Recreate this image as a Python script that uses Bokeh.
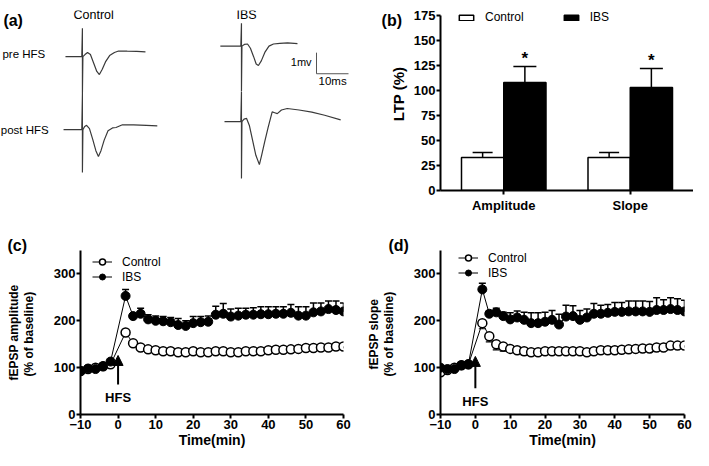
import math
from bokeh.plotting import figure
from bokeh.models import (Range1d, FactorRange, Whisker, TeeHead, NormalHead, Arrow, Label, Title,
                          Legend, LegendItem, ColumnDataSource, SingleIntervalTicker)
from bokeh.transform import dodge
from bokeh.layouts import row, column
from bokeh.embed import file_html
from bokeh.resources import INLINE
from bokeh.core.properties import value

FONT = "Liberation Sans"

# ---------------- panel (a): example fEPSP traces (ms from stimulus, mV from baseline)
ctrl_pre_t = [-5.3, -0.2, 0.0, 0.0, 0.15, 0.8, 1.6, 2.5, 3.5, 4.5, 5.3, 6.2, 7.2, 8.5, 10.0, 11.3, 14.0, 17.0, 19.7]
ctrl_pre_v = [0.0, 0.0, 1.35, -1.77, 0.0, 0.1, 0.2, 0.1, -0.3, -0.7, -0.85, -0.6, -0.25, 0.05, 0.2, 0.27, 0.26, 0.25, 0.23]
ctrl_post_t = [-5.9, -0.2, 0.0, 0.0, 0.15, 0.7, 1.3, 2.2, 3.2, 4.2, 5.0, 5.8, 6.8, 8.0, 9.4, 10.5, 12.5, 16.0, 20.0, 23.4]
ctrl_post_v = [0.0, 0.0, 1.69, -2.04, 0.0, 0.15, 0.2, 0.05, -0.45, -1.0, -1.27, -1.0, -0.5, -0.05, 0.08, 0.1, 0.23, 0.22, 0.2, 0.18]
ibs_pre_t = [-6.6, -0.2, 0.0, 0.0, 0.15, 0.9, 1.9, 2.8, 3.8, 4.6, 5.3, 6.2, 7.3, 8.6, 10.0, 12.0, 14.4, 17.5]
ibs_pre_v = [0.0, 0.0, 1.08, -2.15, 0.0, 0.08, 0.1, -0.1, -0.5, -0.85, -0.92, -0.7, -0.3, 0.0, 0.1, 0.13, 0.15, 0.12]
ibs_post_t = [-5.3, -0.2, 0.0, 0.0, 0.15, 0.8, 1.6, 2.5, 3.5, 4.5, 5.6, 6.3, 7.2, 8.3, 9.6, 10.4, 11.2, 12.5, 14.3, 18.0, 22.0, 26.0, 31.0]
ibs_post_v = [0.0, 0.0, 1.42, -2.7, 0.0, 0.12, 0.15, -0.2, -0.9, -1.6, -2.04, -1.6, -1.0, -0.3, 0.46, 0.42, 0.38, 0.55, 0.62, 0.55, 0.45, 0.3, 0.08]
scale_ms = 10
scale_mv = 1

# ---------------- panel (b): LTP (%)
groups = ["Amplitude", "Slope"]
ltp_control = [33, 33]
ltp_control_sem = [5, 5]
ltp_ibs = [108, 103]
ltp_ibs_sem = [16, 19]

# ---------------- panels (c), (d): time course (% of baseline)
time_min = [-10, -8, -6, -4, -2, 2, 4, 6, 8, 10, 12, 14, 16, 18, 20, 22, 24, 26, 28, 30,
            32, 34, 36, 38, 40, 42, 44, 46, 48, 50, 52, 54, 56, 58, 60]
amp_control = [93, 97, 100, 103, 107, 175, 152, 143, 139, 137, 135, 135, 133, 133, 135, 133, 133, 135, 135, 133,
               133, 135, 135, 135, 137, 138, 138, 139, 140, 142, 142, 143, 143, 145, 145]
amp_control_sem = [3, 3, 3, 3, 3, 4, 4, 3, 3, 3, 3, 3, 3, 3, 3, 3, 3, 3, 3, 3,
                   3, 3, 3, 3, 3, 3, 3, 3, 3, 3, 3, 3, 3, 3, 3]
amp_ibs = [93, 98, 97, 103, 113, 253, 210, 215, 203, 200, 199, 197, 191, 189, 195, 197, 198, 213, 215, 209,
           211, 213, 213, 214, 214, 215, 215, 217, 211, 211, 218, 220, 225, 223, 220]
amp_ibs_sem = [3, 3, 3, 3, 4, 14, 5, 12, 10, 10, 10, 10, 14, 11, 14, 12, 12, 18, 22, 16,
               16, 14, 15, 16, 16, 15, 15, 18, 19, 19, 20, 18, 17, 19, 18]
slope_control = [90, 95, 100, 105, 107, 195, 167, 150, 145, 140, 137, 135, 133, 133, 135, 135, 135, 135, 135, 135,
                 133, 135, 137, 137, 137, 138, 139, 140, 141, 141, 143, 143, 147, 147, 147]
slope_control_sem = [3, 3, 3, 3, 3, 12, 12, 12, 10, 6, 5, 8, 6, 6, 3, 3, 3, 3, 3, 3,
                     3, 3, 3, 3, 3, 3, 3, 3, 3, 3, 3, 3, 3, 3, 3]
slope_ibs = [100, 97, 97, 105, 107, 267, 215, 218, 210, 203, 207, 202, 195, 195, 198, 202, 192, 209, 210, 202,
             207, 215, 215, 217, 219, 219, 220, 220, 220, 219, 223, 223, 225, 223, 220]
slope_ibs_sem = [3, 3, 3, 3, 3, 13, 6, 9, 8, 14, 14, 16, 22, 22, 20, 20, 22, 24, 22, 20,
                 18, 22, 18, 18, 20, 20, 22, 22, 22, 22, 26, 22, 24, 24, 24]


def style(p, tick_size="13px"):
    p.outline_line_color = None
    p.grid.visible = False
    for ax in p.axis:
        ax.axis_line_width = 2
        ax.axis_line_color = "black"
        ax.major_tick_line_width = 2
        ax.major_tick_line_color = "black"
        ax.major_tick_in = 0
        ax.major_tick_out = 4
        ax.minor_tick_line_color = None
        ax.major_label_text_font = FONT
        ax.major_label_text_font_style = "bold"
        ax.major_label_text_font_size = tick_size
        ax.major_label_text_color = "black"
        ax.major_label_standoff = 1
        ax.axis_label_text_font = FONT
        ax.axis_label_text_font_style = "bold"
        ax.axis_label_text_color = "black"


def txt(p, x, y, s, size, bold=False, align="left", baseline="middle"):
    p.add_layout(Label(x=x, y=y, text=s, text_font=FONT, text_font_size=size,
                       text_font_style="bold" if bold else "normal", text_align=align,
                       text_baseline=baseline, text_color="black"))


TOP_H, BOT_H = 222, 228

# ================= panel (a)  (also carries the "(b)" tag and the LTP axis title)
PX_MS, PX_MV = 3.2, 26.0
WA = 410
pa = figure(width=WA, height=TOP_H, x_range=Range1d(0, WA / PX_MS), y_range=Range1d(-TOP_H / PX_MV, 0),
            x_axis_type=None, y_axis_type=None, min_border=0, output_backend="svg", toolbar_location=None)
pa.outline_line_color = None
pa.grid.visible = False
trace_col = "#3a3a3a"
for tt, vv, x0, y0 in [(ctrl_pre_t, ctrl_pre_v, 25.6, -2.19), (ctrl_post_t, ctrl_post_v, 25.6, -5.65),
                       (ibs_pre_t, ibs_pre_v, 75.3, -1.69), (ibs_post_t, ibs_post_v, 75.3, -5.27)]:
    s = ColumnDataSource(dict(t=tt, v=vv))
    pa.line(x=dodge("t", x0), y=dodge("v", y0), source=s, line_color=trace_col, line_width=1.2)
sb_x, sb_y = 98.75, -3.0
pa.line(x=[sb_x, sb_x, sb_x + scale_ms], y=[sb_y + scale_mv, sb_y, sb_y], line_color="#555555", line_width=1)
txt(pa, 0.9, -0.48, "(a)", "16px", bold=True)
txt(pa, 29.1, -0.21, "Control", "12.5px", align="center")
txt(pa, 76.9, -0.21, "IBS", "12.5px", align="center")
txt(pa, 0.6, -2.04, "pre HFS", "11.5px")
txt(pa, 0.1, -5.65, "post HFS", "11.5px")
txt(pa, 97.2, -2.42, "1mv", "11px", align="right")
txt(pa, 99.4, -3.35, "10ms", "11.5px")
txt(pa, 119.1, -0.46, "(b)", "16px", bold=True)
pa.text(x=[124.3], y=[-3.96], text=["LTP (%)"], angle=math.pi / 2, text_font=value(FONT),
        text_font_size="15px", text_font_style="bold", text_align="center",
        text_baseline="middle", text_color="black")

# ================= panel (b)
pb = figure(width=693 - WA, height=TOP_H, x_range=FactorRange(factors=groups, range_padding=0),
            y_range=Range1d(0, 180), min_border_left=28, min_border_right=0, min_border_top=10,
            min_border_bottom=32, output_backend="svg", toolbar_location=None)
srcb = ColumnDataSource(dict(g=groups, c=ltp_control,
                             c_hi=[a + b for a, b in zip(ltp_control, ltp_control_sem)],
                             i=ltp_ibs, i_hi=[a + b for a, b in zip(ltp_ibs, ltp_ibs_sem)],
                             star=["*", "*"]))
bw = 0.334
xc = dodge("g", -bw / 2, range=pb.x_range)
xi = dodge("g", bw / 2, range=pb.x_range)
pb.add_layout(Whisker(base=xc, lower="c", upper="c_hi", source=srcb, lower_head=None,
                      upper_head=TeeHead(size=20, line_width=1.5, line_color="black"),
                      line_width=1.5, line_color="black", level="underlay"))
pb.add_layout(Whisker(base=xi, lower="i", upper="i_hi", source=srcb, lower_head=None,
                      upper_head=TeeHead(size=23, line_width=1.5, line_color="black"),
                      line_width=1.5, line_color="black", level="underlay"))
rc = pb.vbar(x=xc, top="c", width=bw, source=srcb, fill_color="white", line_color="black", line_width=1.5)
ri = pb.vbar(x=xi, top="i", width=bw, source=srcb, fill_color="black", line_color="black", line_width=1.5)
pb.text(x=xi, y="i_hi", text="star", source=srcb, text_font=value(FONT), text_font_size="17px",
        text_font_style="bold", text_align="center", text_baseline="bottom", y_offset=1,
        text_color="black")
pb.yaxis.ticker = SingleIntervalTicker(interval=25)
pb.yaxis.bounds = (0, 175)
style(pb)
pb.xaxis.major_label_standoff = 3
legb = Legend(items=[LegendItem(label="Control", renderers=[rc]), LegendItem(label="IBS", renderers=[ri])],
              location=(17, 166), orientation="horizontal", glyph_width=18, glyph_height=7,
              label_height=12, label_standoff=10, spacing=38, padding=0, margin=0,
              border_line_color=None, background_fill_alpha=0, label_text_font=FONT,
              label_text_font_size="12px", label_text_color="black")
pb.add_layout(legb)


# ================= panels (c), (d)
def time_panel(width, mb_left, mb_right, ctrl, ctrl_sem, ibs, ibs_sem, ylabel1, ylabel2, tag, tag_off,
               arrow_lo, arrow_hi, hfs_y, leg_x, leg_y):
    p = figure(width=width, height=BOT_H, x_range=Range1d(-10, 60), y_range=Range1d(0, 350),
               min_border_left=mb_left, min_border_right=mb_right, min_border_top=28,
               min_border_bottom=36, output_backend="svg", toolbar_location=None, title=tag)
    p.title.align = "left"
    p.title.offset = tag_off
    p.title.standoff = -6
    p.title.text_font = FONT
    p.title.text_font_size = "16px"
    p.title.text_font_style = "bold"
    p.title.text_color = "black"
    src = ColumnDataSource(dict(t=time_min, c=ctrl, c_lo=[a - b for a, b in zip(ctrl, ctrl_sem)],
                                i=ibs, i_hi=[a + b for a, b in zip(ibs, ibs_sem)]))
    p.add_layout(Whisker(base="t", lower="c_lo", upper="c", source=src, upper_head=None,
                         lower_head=TeeHead(size=7, line_width=1.2, line_color="black"),
                         line_width=1.2, line_color="black", level="underlay"))
    p.add_layout(Whisker(base="t", lower="i", upper="i_hi", source=src, lower_head=None,
                         upper_head=TeeHead(size=7, line_width=1.5, line_color="black"),
                         line_width=1.5, line_color="black", level="underlay"))
    lc = p.line("t", "c", source=src, line_color="black", line_width=1)
    sc = p.scatter("t", "c", source=src, size=9, fill_color="white", line_color="black", line_width=1.5)
    li = p.line("t", "i", source=src, line_color="black", line_width=1)
    si = p.scatter("t", "i", source=src, size=9, fill_color="black", line_color="black", line_width=1)
    p.xaxis.ticker = SingleIntervalTicker(interval=10)
    p.yaxis.ticker = SingleIntervalTicker(interval=100)
    p.xaxis.axis_label = "Time(min)"
    p.yaxis.axis_label = ylabel2
    style(p)
    p.xaxis.axis_label_text_font_size = "14px"
    p.yaxis.axis_label_text_font_size = "12px"
    p.xaxis.axis_label_standoff = 0
    p.yaxis.axis_label_standoff = 15
    p.add_layout(Title(text=ylabel1, align="center", standoff=-4, text_font=FONT,
                       text_font_size="12px", text_font_style="bold", text_color="black"), "left")
    p.add_layout(Arrow(end=NormalHead(size=10, fill_color="black", line_color="black", line_width=1),
                       x_start=0, y_start=arrow_lo, x_end=0, y_end=arrow_hi,
                       line_width=2, line_color="black"))
    txt(p, 0, hfs_y, "HFS", "13px", bold=True, align="center")
    leg = Legend(items=[LegendItem(label="Control", renderers=[lc, sc]),
                        LegendItem(label="IBS", renderers=[li, si])],
                 location=(leg_x, leg_y), orientation="vertical", glyph_width=20, glyph_height=15,
                 label_height=15, label_standoff=10, spacing=0, padding=0, margin=0,
                 border_line_color=None, background_fill_alpha=0, label_text_font=FONT,
                 label_text_font_size="12px", label_text_color="black")
    p.add_layout(leg)
    return p


pc = time_panel(360, 80, 17, amp_control, amp_control_sem, amp_ibs, amp_ibs_sem,
                "fEPSP amplitude", "(% of  baseline)", "(c)", -73, 64, 126, 36, 12, 130)
pd = time_panel(333, 80, 9, slope_control, slope_control_sem, slope_ibs, slope_ibs_sem,
                "fEPSP  slope", "(% of  baseline)", "(d)", -52, 56, 124, 27, 18, 134)

layout = column(row(pa, pb), row(pc, pd))
open("out.html", "w").write(file_html(layout, INLINE))
